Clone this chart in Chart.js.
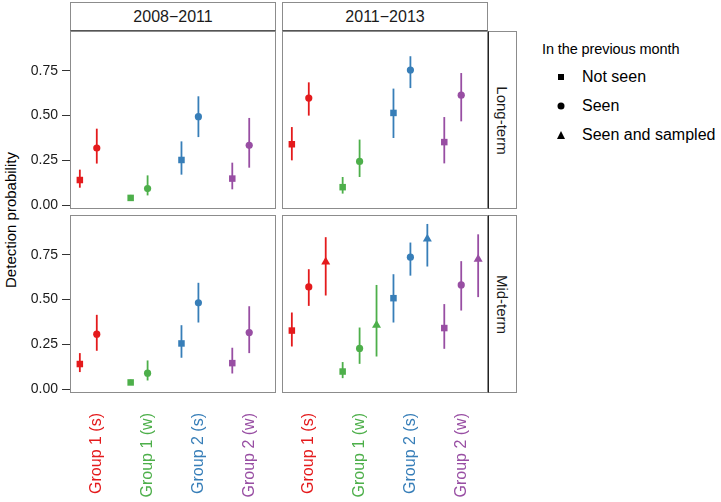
<!DOCTYPE html>
<html>
<head>
<meta charset="utf-8">
<script src="https://cdn.jsdelivr.net/npm/chart.js@4"></script>
<style>
  body { margin: 0; background: #fff; font-family: "Liberation Sans", Arial, sans-serif; color: #000; }
  #wrap { position: relative; width: 721px; height: 502px; overflow: hidden; }
  canvas { position: absolute; }
  .strip { position: absolute; box-sizing: border-box; border: 1px solid #8c8c8c; background: #fff;
           display: flex; align-items: center; justify-content: center; font-size: 16px; color: #1a1a1a; }
  .strip.top { border-bottom-color: #555; }
  .strip.side { border-left-color: #222; }
  .strip.side span { transform: rotate(90deg); white-space: nowrap; font-size: 15px; }
  #ytitle { position: absolute; left: 10px; top: 220px; transform: translate(-50%, -50%) rotate(-90deg);
            white-space: nowrap; font-size: 15px; }
  .lg { position: absolute; white-space: nowrap; }
  .lg-title { left: 542px; top: 41px; font-size: 14.5px; letter-spacing: -0.1px; }
  .lg-item { left: 582px; font-size: 16px; transform: translateY(-50%); }
  .sym { position: absolute; background: #000; transform: translate(-50%, -50%); }
</style>
</head>
<body>
<div id="wrap">
  <div class="strip top" style="left:70px; top:2px; width:206px; height:29px;">2008−2011</div>
  <div class="strip top" style="left:282px; top:2px; width:206px; height:29px;">2011−2013</div>
  <div class="strip side" style="left:488px; top:31px; width:29px; height:178px;"><span>Long-term</span></div>
  <div class="strip side" style="left:488px; top:215px; width:29px; height:178px;"><span>Mid-term</span></div>
  <div id="ytitle">Detection probability</div>

  <div class="lg lg-title">In the previous month</div>
  <div class="sym" style="left:561px; top:77px; width:6px; height:6px;"></div>
  <div class="lg lg-item" style="top:77px;">Not seen</div>
  <div class="sym" style="left:561px; top:106px; width:7px; height:7px; border-radius:50%;"></div>
  <div class="lg lg-item" style="top:106px;">Seen</div>
  <div class="sym" style="left:561px; top:135px; width:0; height:0; background:none; border-left:4.5px solid transparent; border-right:4.5px solid transparent; border-bottom:8px solid #000;"></div>
  <div class="lg lg-item" style="top:135px;">Seen and sampled</div>

  <canvas id="c1" width="276" height="178" style="left:0; top:31px;"></canvas>
  <canvas id="c2" width="206" height="178" style="left:282px; top:31px;"></canvas>
  <canvas id="c3" width="276" height="287" style="left:0; top:215px;"></canvas>
  <canvas id="c4" width="206" height="287" style="left:282px; top:215px;"></canvas>
</div>
<script>
// categories and labels
const groups = ["Group 1 (s)", "Group 1 (w)", "Group 2 (s)", "Group 2 (w)"];
const shapeNames = ["Not seen", "Seen", "Seen and sampled"];
const yTicks = [0, 0.25, 0.5, 0.75];

// each entry: [estimate, lower, upper] per group
// 2008-2011, Long-term
const lt0811NotSeen = [[0.14, 0.097, 0.198], [0.04, 0.027, 0.057], [0.252, 0.17, 0.356], [0.148, 0.088, 0.237]];
const lt0811Seen    = [[0.319, 0.232, 0.427], [0.092, 0.054, 0.166], [0.494, 0.38, 0.608], [0.334, 0.209, 0.487]];
// 2011-2013, Long-term
const lt1113NotSeen = [[0.34, 0.25, 0.436], [0.10, 0.064, 0.157], [0.515, 0.375, 0.651], [0.352, 0.233, 0.492]];
const lt1113Seen    = [[0.598, 0.5, 0.686], [0.244, 0.157, 0.366], [0.755, 0.654, 0.832], [0.614, 0.468, 0.738]];
// 2008-2011, Mid-term
const mt0811NotSeen = [[0.14, 0.095, 0.201], [0.037, 0.025, 0.053], [0.255, 0.175, 0.357], [0.145, 0.087, 0.231]];
const mt0811Seen    = [[0.307, 0.214, 0.415], [0.089, 0.048, 0.16], [0.482, 0.372, 0.594], [0.316, 0.201, 0.463]];
// 2011-2013, Mid-term
const mt1113NotSeen = [[0.327, 0.238, 0.428], [0.098, 0.061, 0.151], [0.508, 0.372, 0.642], [0.341, 0.225, 0.475]];
const mt1113Seen    = [[0.571, 0.465, 0.67], [0.227, 0.141, 0.344], [0.737, 0.634, 0.819], [0.582, 0.439, 0.715]];
const mt1113Sampled = [[0.711, 0.523, 0.849], [0.357, 0.182, 0.582], [0.839, 0.685, 0.923], [0.726, 0.514, 0.865]];

// styling
const groupColors = ["#E41A1C", "#4DAF4A", "#377EB8", "#984EA3"];
const shapeStyle = ["rect", "circle", "triangle"];
const shapeRadius = [4.6, 3.6, 5.2];
const shapeDodge = [-1 / 3, 0, 1 / 3];

Chart.defaults.font.family = "'Liberation Sans', Arial, sans-serif";

const errorBars = {
  id: "errorBars",
  beforeDatasetsDraw(chart) {
    const ctx = chart.ctx, xs = chart.scales.x, ys = chart.scales.y;
    ctx.save();
    ctx.lineWidth = 1.8;
    chart.data.datasets.forEach(ds => {
      ds.data.forEach((d, i) => {
        const px = xs.getPixelForValue(d.x);
        ctx.strokeStyle = groupColors[i];
        ctx.beginPath();
        ctx.moveTo(px, ys.getPixelForValue(d.lo));
        ctx.lineTo(px, ys.getPixelForValue(d.hi));
        ctx.stroke();
      });
    });
    ctx.restore();
  }
};

const panelBox = {
  id: "panelBox",
  afterDraw(chart) {
    const a = chart.chartArea, ctx = chart.ctx;
    ctx.save();
    ctx.strokeStyle = "#8c8c8c";
    ctx.lineWidth = 1;
    ctx.strokeRect(a.left + 0.5, a.top + 0.5, a.right - a.left - 1, a.bottom - a.top - 1);
    ctx.restore();
  }
};

function panel(id, series, showY, showX) {
  const datasets = series.map(s => ({
    label: shapeNames[s.shape],
    data: s.values.map((v, i) => ({ x: i + shapeDodge[s.shape], y: v[0], lo: v[1], hi: v[2] })),
    pointStyle: shapeStyle[s.shape],
    pointRadius: shapeRadius[s.shape],
    backgroundColor: groupColors,
    borderColor: groupColors,
    borderWidth: 0,
    showLine: false,
    clip: false
  }));
  new Chart(document.getElementById(id), {
    type: "scatter",
    data: { datasets },
    plugins: [errorBars, panelBox],
    options: {
      responsive: false,
      animation: false,
      events: [],
      layout: { padding: 0, autoPadding: false },
      plugins: { legend: { display: false }, tooltip: { enabled: false } },
      scales: {
        x: {
          type: "linear",
          min: -0.527, max: 3.527,
          display: showX,
          grid: { display: false, drawTicks: false },
          border: { display: false },
          afterBuildTicks: sc => { sc.ticks = groups.map((g, i) => ({ value: i })); },
          afterFit: sc => {
            if (!showX) return;
            sc.height = 109; sc.paddingLeft = 0; sc.paddingRight = 0;
          },
          ticks: {
            minRotation: 90, maxRotation: 90,
            padding: 20,
            font: { size: 16 },
            color: c => groupColors[c.tick ? c.tick.value : c.index],
            callback: v => groups[v]
          }
        },
        y: {
          min: -0.022, max: 0.973,
          display: showY,
          grid: { drawOnChartArea: false, drawTicks: true, tickLength: 8, color: "#333" },
          border: { display: false },
          afterBuildTicks: sc => { sc.ticks = yTicks.map(v => ({ value: v })); },
          afterFit: sc => {
            if (!showY) return;
            sc.width = 70; sc.paddingTop = 0; sc.paddingBottom = 0;
          },
          ticks: {
            padding: 4,
            font: { size: 14 },
            color: "#1a1a1a",
            callback: v => v.toFixed(2)
          }
        }
      }
    }
  });
}

panel("c1", [{ shape: 0, values: lt0811NotSeen }, { shape: 1, values: lt0811Seen }], true, false);
panel("c2", [{ shape: 0, values: lt1113NotSeen }, { shape: 1, values: lt1113Seen }], false, false);
panel("c3", [{ shape: 0, values: mt0811NotSeen }, { shape: 1, values: mt0811Seen }], true, true);
panel("c4", [{ shape: 0, values: mt1113NotSeen }, { shape: 1, values: mt1113Seen }, { shape: 2, values: mt1113Sampled }], false, true);
</script>
</body>
</html>
